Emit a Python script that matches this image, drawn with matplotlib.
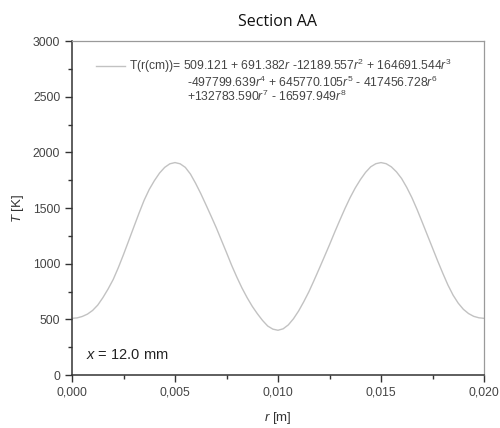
import numpy as np
import matplotlib
matplotlib.use("Agg")
import matplotlib.pyplot as plt
from matplotlib.ticker import MultipleLocator

plt.rcParams['font.family'] = ['Liberation Sans', 'DejaVu Sans']
plt.rcParams['mathtext.fontset'] = 'custom'
plt.rcParams['mathtext.rm'] = 'Liberation Sans'
plt.rcParams['mathtext.it'] = 'Liberation Sans:italic'

# radial position [m] and temperature [K]
r_m = [0.00000, 0.00025, 0.00050, 0.00075, 0.00100, 0.00125, 0.00150, 0.00175,
       0.00200, 0.00225, 0.00250, 0.00275, 0.00300, 0.00325, 0.00350, 0.00375,
       0.00400, 0.00425, 0.00450, 0.00475, 0.00500, 0.00525, 0.00550, 0.00575,
       0.00600, 0.00625, 0.00650, 0.00675, 0.00700, 0.00725, 0.00750, 0.00775,
       0.00800, 0.00825, 0.00850, 0.00875, 0.00900, 0.00925, 0.00950, 0.00975,
       0.01000, 0.01025, 0.01050, 0.01075, 0.01100, 0.01125, 0.01150, 0.01175,
       0.01200, 0.01225, 0.01250, 0.01275, 0.01300, 0.01325, 0.01350, 0.01375,
       0.01400, 0.01425, 0.01450, 0.01475, 0.01500, 0.01525, 0.01550, 0.01575,
       0.01600, 0.01625, 0.01650, 0.01675, 0.01700, 0.01725, 0.01750, 0.01775,
       0.01800, 0.01825, 0.01850, 0.01875, 0.01900, 0.01925, 0.01950, 0.01975,
       0.02000]
T_K = [509, 513, 526, 547, 580, 628, 695, 772,
       858, 965, 1082, 1205, 1329, 1452, 1569, 1667,
       1746, 1814, 1865, 1897, 1908, 1897, 1865, 1805,
       1722, 1630, 1530, 1428, 1324, 1212, 1100, 985,
       880, 782, 695, 617, 550, 490, 440, 412,
       402, 415, 450, 505, 575, 658, 748, 850,
       955, 1062, 1170, 1282, 1390, 1495, 1593, 1680,
       1755, 1820, 1870, 1898, 1908, 1898, 1870, 1825,
       1765, 1685, 1593, 1487, 1373, 1257, 1141, 1025,
       914, 808, 717, 645, 590, 552, 527, 514,
       509]

xticks = [0.000, 0.005, 0.010, 0.015, 0.020]
xtick_labels = ['0,000', '0,005', '0,010', '0,015', '0,020']
yticks = [0, 500, 1000, 1500, 2000, 2500, 3000]

eq_lines = [
    r'T(r(cm))= 509.121 + 691.382$\it{r}$ -12189.557$\it{r}^{2}$ + 164691.544$\it{r}^{3}$',
    r'-497799.639$\it{r}^{4}$ + 645770.105$\it{r}^{5}$ - 417456.728$\it{r}^{6}$',
    r'+132783.590$\it{r}^{7}$ - 16597.949$\it{r}^{8}$',
]

fig = plt.figure(figsize=(5.0, 4.28), dpi=100)
ax = fig.add_axes([0.144, 0.1238, 0.824, 0.7804])

ax.plot(r_m, T_K, color='#c2c2c2', lw=1.0, label=eq_lines[0])

ax.set_xlim(0, 0.02)
ax.set_ylim(0, 3000)
ax.set_xticks(xticks)
ax.set_xticklabels(xtick_labels)
ax.set_yticks(yticks)
ax.xaxis.set_minor_locator(MultipleLocator(0.0025))
ax.yaxis.set_minor_locator(MultipleLocator(250))
ax.tick_params(which='major', direction='out', length=5, width=1, colors='#333333',
               labelsize=8.8, labelcolor='#444444', top=False, right=False)
ax.tick_params(which='minor', direction='out', length=3, width=1, colors='#333333',
               top=False, right=False)

for side in ['left', 'bottom']:
    ax.spines[side].set_color('#333333')
    ax.spines[side].set_linewidth(1.1)
for side in ['top', 'right']:
    ax.spines[side].set_color('#9a9a9a')
    ax.spines[side].set_linewidth(0.9)

ax.set_xlabel(r'$\it{r}$ [m]', fontsize=9.5, color='#333333', labelpad=8)
ax.set_ylabel(r'$\it{T}$ [K]', fontsize=9.5, color='#333333', labelpad=5)
ax.set_title('Section AA', fontfamily='Open Sans', fontsize=11.5, color='#111111', pad=11)

leg = ax.legend(loc='center left', bbox_to_anchor=(0.058, 0.925), frameon=False,
                fontsize=8.7, handlelength=2.4, handletextpad=0.35,
                borderpad=0, borderaxespad=0)
for t in leg.get_texts():
    t.set_color('#444444')

ax.text(0.279, 0.877, eq_lines[1], transform=ax.transAxes, fontsize=8.7,
        color='#444444', va='center', ha='left')
ax.text(0.279, 0.833, eq_lines[2], transform=ax.transAxes, fontsize=8.7,
        color='#444444', va='center', ha='left')

ax.text(0.034, 0.06, r'$\it{x}$ = 12.0 mm', transform=ax.transAxes, fontsize=10.5,
        color='#222222', va='center', ha='left')

fig.savefig('out.png', dpi=100)
